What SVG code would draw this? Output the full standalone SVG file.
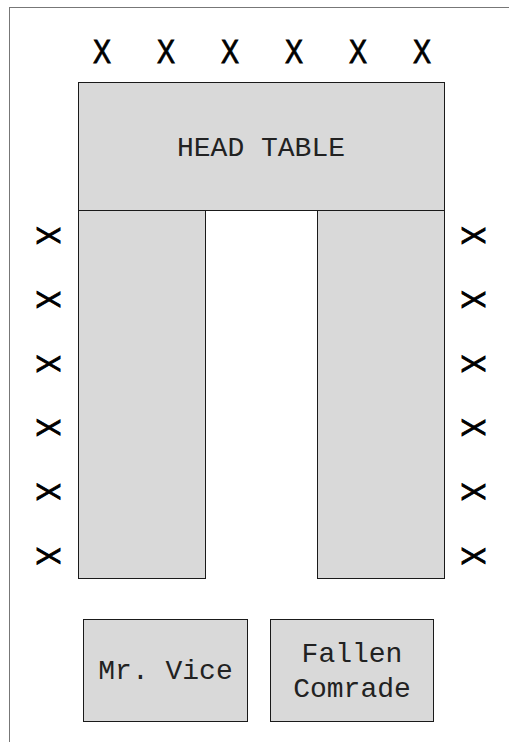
<svg xmlns="http://www.w3.org/2000/svg" width="509" height="742" viewBox="0 0 509 742">
<style>
.tbl{fill:#d9d9d9;stroke:#1a1a1a;stroke-width:1}
.lbl{font-family:"Liberation Mono","DejaVu Sans Mono",monospace;font-size:28px;fill:#222;text-anchor:middle}
.x{font-family:"Liberation Sans",Arial,sans-serif;font-size:32.5px;fill:#000;stroke:#000;stroke-width:0.9;text-anchor:middle}
</style>
<defs>
<text id="xm" class="x" x="0" y="11.65">X</text>
</defs>
<rect x="9.5" y="7.5" width="520" height="760" fill="#fff" stroke="#777" stroke-width="1"/>
<g id="seats-top">
<use href="#xm" transform="translate(102,51.7) scale(0.83,1)"/>
<use href="#xm" transform="translate(166,51.7) scale(0.83,1)"/>
<use href="#xm" transform="translate(230,51.7) scale(0.83,1)"/>
<use href="#xm" transform="translate(294,51.7) scale(0.83,1)"/>
<use href="#xm" transform="translate(358,51.7) scale(0.83,1)"/>
<use href="#xm" transform="translate(422,51.7) scale(0.83,1)"/>
</g>
<g id="seats-left">
<use href="#xm" transform="translate(48.8,235.5) rotate(90) scale(0.83,1)"/>
<use href="#xm" transform="translate(48.8,299.6) rotate(90) scale(0.83,1)"/>
<use href="#xm" transform="translate(48.8,363.7) rotate(90) scale(0.83,1)"/>
<use href="#xm" transform="translate(48.8,427.6) rotate(90) scale(0.83,1)"/>
<use href="#xm" transform="translate(48.8,491.7) rotate(90) scale(0.83,1)"/>
<use href="#xm" transform="translate(48.8,556) rotate(90) scale(0.83,1)"/>
</g>
<g id="seats-right">
<use href="#xm" transform="translate(474,235.5) rotate(90) scale(0.83,1)"/>
<use href="#xm" transform="translate(474,299.6) rotate(90) scale(0.83,1)"/>
<use href="#xm" transform="translate(474,363.7) rotate(90) scale(0.83,1)"/>
<use href="#xm" transform="translate(474,427.6) rotate(90) scale(0.83,1)"/>
<use href="#xm" transform="translate(474,491.7) rotate(90) scale(0.83,1)"/>
<use href="#xm" transform="translate(474,556) rotate(90) scale(0.83,1)"/>
</g>
<g id="left-leg"><rect class="tbl" x="78.5" y="210.5" width="127" height="368"/></g>
<g id="right-leg"><rect class="tbl" x="317.5" y="210.5" width="127" height="368"/></g>
<g id="head-table">
<rect class="tbl" x="78.5" y="82.5" width="366" height="128"/>
<text class="lbl" x="261" y="155.5">HEAD TABLE</text>
</g>
<g id="mr-vice">
<rect class="tbl" x="83.5" y="619.5" width="164" height="102"/>
<text class="lbl" x="165.5" y="679">Mr. Vice</text>
</g>
<g id="fallen-comrade">
<rect class="tbl" x="270.5" y="619.5" width="163" height="102"/>
<text class="lbl" x="352" y="661.5">Fallen</text>
<text class="lbl" x="352" y="696.5">Comrade</text>
</g>
<g id="connectors"/>
</svg>
